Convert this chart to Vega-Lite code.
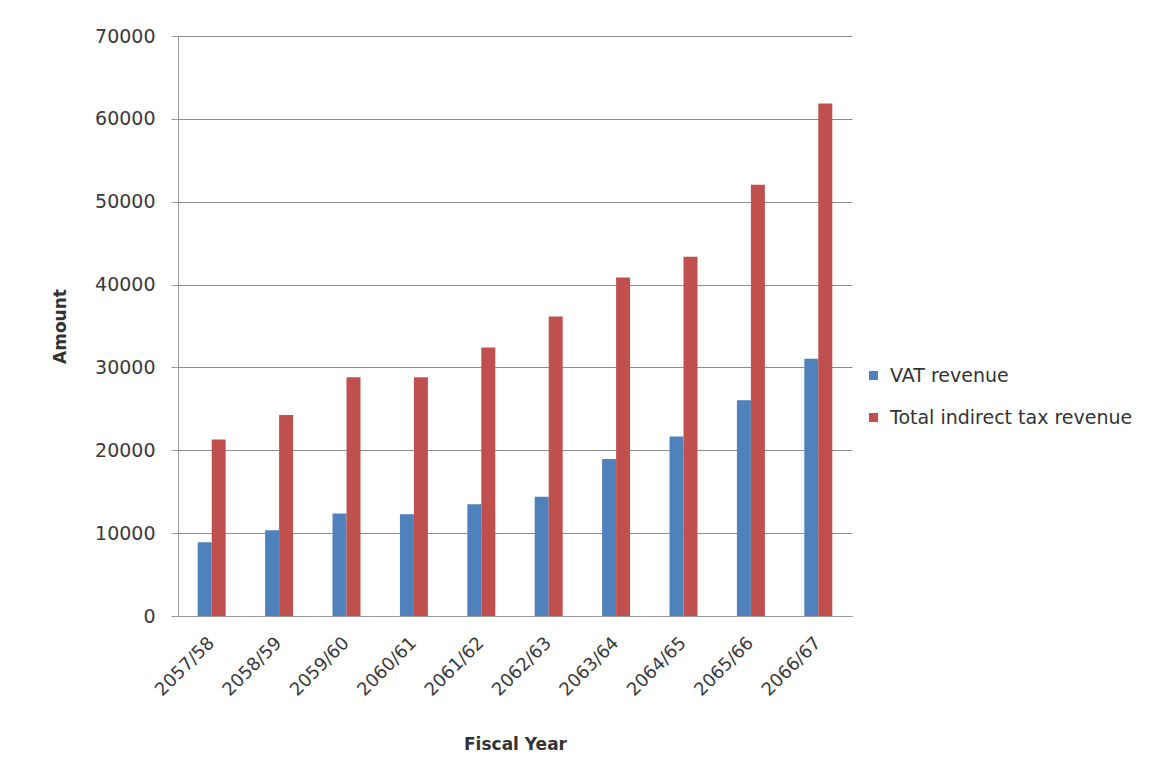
{
  "$schema": "https://vega.github.io/schema/vega-lite/v6.json",
  "autosize": "none",
  "width": 674,
  "height": 580,
  "padding": {"left": 178, "top": 36, "right": 317, "bottom": 162},
  "background": "white",
  "data": {
    "values": [
      {"year": "2057/58", "series": "VAT revenue", "amount": 8900},
      {"year": "2057/58", "series": "Total indirect tax revenue", "amount": 21300},
      {"year": "2058/59", "series": "VAT revenue", "amount": 10350},
      {"year": "2058/59", "series": "Total indirect tax revenue", "amount": 24250},
      {"year": "2059/60", "series": "VAT revenue", "amount": 12370},
      {"year": "2059/60", "series": "Total indirect tax revenue", "amount": 28800},
      {"year": "2060/61", "series": "VAT revenue", "amount": 12290},
      {"year": "2060/61", "series": "Total indirect tax revenue", "amount": 28800},
      {"year": "2061/62", "series": "VAT revenue", "amount": 13500},
      {"year": "2061/62", "series": "Total indirect tax revenue", "amount": 32400},
      {"year": "2062/63", "series": "VAT revenue", "amount": 14400},
      {"year": "2062/63", "series": "Total indirect tax revenue", "amount": 36150},
      {"year": "2063/64", "series": "VAT revenue", "amount": 18950},
      {"year": "2063/64", "series": "Total indirect tax revenue", "amount": 40850},
      {"year": "2064/65", "series": "VAT revenue", "amount": 21650},
      {"year": "2064/65", "series": "Total indirect tax revenue", "amount": 43350},
      {"year": "2065/66", "series": "VAT revenue", "amount": 26050},
      {"year": "2065/66", "series": "Total indirect tax revenue", "amount": 52050},
      {"year": "2066/67", "series": "VAT revenue", "amount": 31050},
      {"year": "2066/67", "series": "Total indirect tax revenue", "amount": 61850}
    ]
  },
  "mark": {"type": "bar"},
  "encoding": {
    "x": {
      "field": "year",
      "type": "nominal",
      "sort": null,
      "title": "Fiscal Year",
      "scale": {"paddingInner": 0.585, "paddingOuter": 0.2925},
      "axis": {
        "labelAngle": -45,
        "labelAlign": "right",
        "labelBaseline": "middle",
        "labelFont": "DejaVu Sans",
        "labelFontSize": 18,
        "labelColor": "#3a3a3a",
        "labelPadding": 24,
        "titleFont": "DejaVu Sans",
        "titleFontSize": 17,
        "titleFontWeight": "bold",
        "titleColor": "#333",
        "titlePadding": 37,
        "domainColor": "#9a9a9a",
        "ticks": false
      }
    },
    "xOffset": {"field": "series", "type": "nominal", "sort": ["VAT revenue", "Total indirect tax revenue"], "scale": {"paddingInner": 0, "paddingOuter": 0}},
    "y": {
      "field": "amount",
      "type": "quantitative",
      "title": "Amount",
      "scale": {"domain": [0, 70000], "nice": false},
      "axis": {
        "values": [0, 10000, 20000, 30000, 40000, 50000, 60000, 70000],
        "format": "d",
        "labelFont": "DejaVu Sans",
        "labelFontSize": 19,
        "labelColor": "#3a3a3a",
        "labelPadding": 16,
        "titleFont": "DejaVu Sans",
        "titleFontSize": 17,
        "titleFontWeight": "bold",
        "titleColor": "#333",
        "titlePadding": 25,
        "domainColor": "#9a9a9a",
        "tickColor": "#9a9a9a",
        "tickSize": 7,
        "gridColor": "#8c8c8c",
        "gridWidth": 1
      }
    },
    "color": {
      "field": "series",
      "type": "nominal",
      "sort": ["VAT revenue", "Total indirect tax revenue"],
      "scale": {"domain": ["VAT revenue", "Total indirect tax revenue"], "range": ["#4F81BD", "#C0504D"]},
      "legend": {
        "title": null,
        "orient": "none",
        "legendX": 686,
        "legendY": 330,
        "symbolType": "square",
        "symbolSize": 81,
        "symbolStrokeWidth": 0,
        "labelFont": "DejaVu Sans",
        "labelFontSize": 19,
        "labelColor": "#333",
        "labelLimit": 0,
        "rowPadding": 22,
        "labelOffset": 7
      }
    }
  },
  "config": {
    "view": {"stroke": null}
  }
}
